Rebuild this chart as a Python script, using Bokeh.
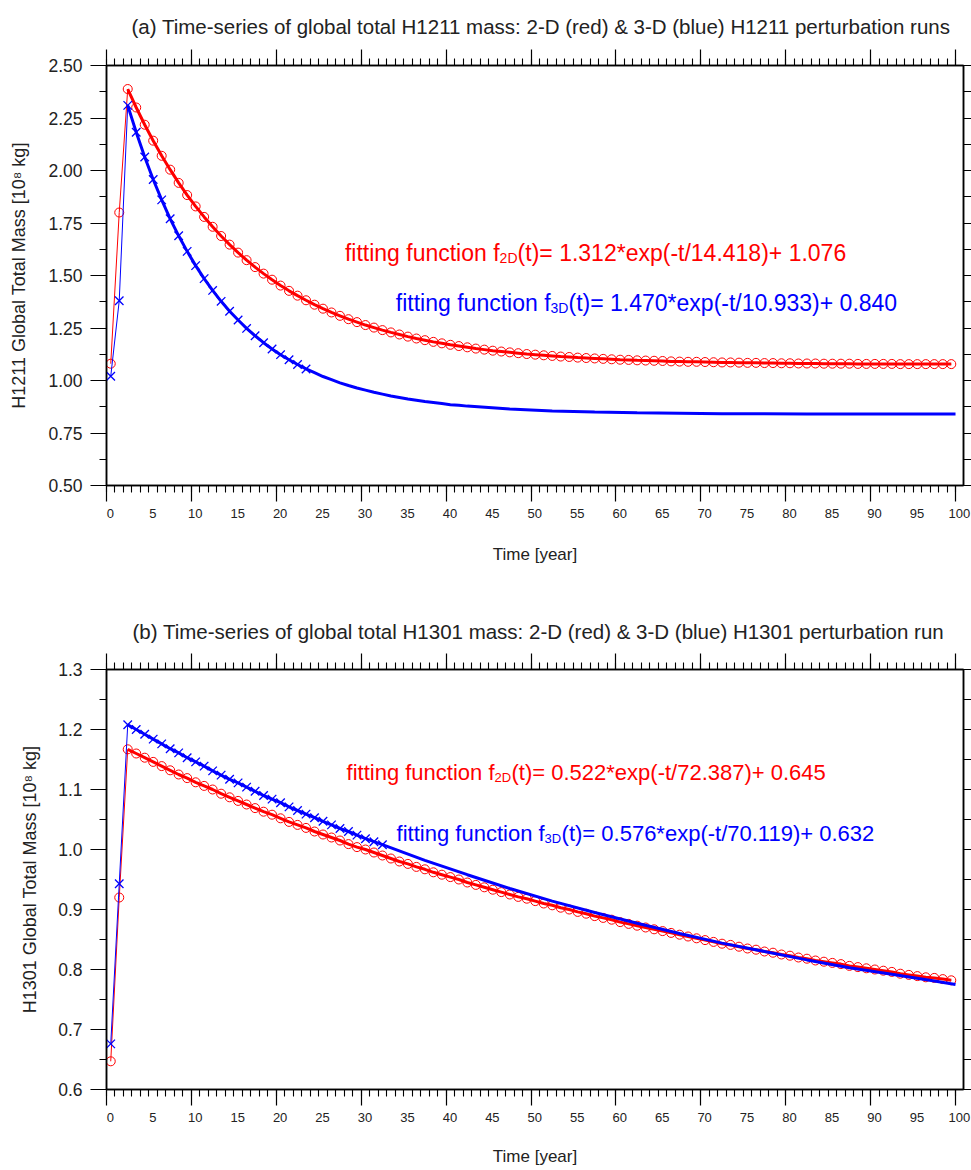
from bokeh.plotting import figure
from bokeh.layouts import column
from bokeh.models import (Range1d, LinearAxis, FixedTicker, CustomJSTickFormatter,
                          PrintfTickFormatter, Label)
from bokeh.embed import file_html
from bokeh.resources import INLINE

# ------------------------------------------------------------------ data
# panel (a) H1211 -- yearly values starting at year 0.5
h1211_2d = [1.080, 1.800,
            2.388, 2.300, 2.218, 2.142, 2.070, 2.004, 1.941, 1.883, 1.829, 1.779,
            1.732, 1.688, 1.647, 1.609, 1.573, 1.540, 1.509, 1.480, 1.452, 1.427,
            1.404, 1.382, 1.361, 1.342, 1.324, 1.308, 1.292, 1.278, 1.264, 1.252,
            1.240, 1.229, 1.219, 1.209, 1.200, 1.192, 1.184, 1.177, 1.170, 1.164,
            1.158, 1.152, 1.147, 1.142, 1.138, 1.134, 1.130, 1.126, 1.123, 1.120,
            1.117, 1.114, 1.112, 1.109, 1.107, 1.105, 1.103, 1.101, 1.099, 1.098,
            1.096, 1.095, 1.094, 1.093, 1.091, 1.090, 1.089, 1.089, 1.088, 1.087,
            1.086, 1.086, 1.085, 1.084, 1.084, 1.083, 1.083, 1.082, 1.082, 1.081,
            1.081, 1.081, 1.080, 1.080, 1.080, 1.080, 1.079, 1.079, 1.079, 1.079,
            1.079, 1.078, 1.078, 1.078, 1.078, 1.078, 1.078, 1.078]
h1211_3d = [1.020, 1.380,
            2.310, 2.182, 2.064, 1.957, 1.860, 1.770, 1.689, 1.615, 1.547, 1.485,
            1.429, 1.377, 1.330, 1.288, 1.248, 1.213, 1.180, 1.150, 1.123, 1.099,
            1.076, 1.055]
h1211_fit3d_t = [2.5, 3.5, 4.5, 5.5, 6.5, 7.5, 8.5, 9.5, 10.5, 11.5,
                 12.5, 13.5, 14.5, 15.5, 16.5, 17.5, 18.5, 19.5, 20.5, 21.5,
                 22.5, 23.5, 24.5, 25.5, 26.5, 27.5, 28.5, 29.5, 30.5, 31.5,
                 32.5, 33.5, 34.5, 35.5, 36.5, 37.5, 38.5, 39.5, 40.5, 41.5, 42.5,
                 47.5, 52.5, 57.5, 62.5, 67.5, 72.5, 77.5, 82.5, 87.5, 92.5, 97.5, 100.0]
h1211_fit3d = [2.310, 2.182, 2.064, 1.957, 1.860, 1.770, 1.689, 1.615, 1.547, 1.485,
               1.429, 1.377, 1.330, 1.288, 1.248, 1.213, 1.180, 1.150, 1.123, 1.099,
               1.076, 1.055, 1.037, 1.019, 1.004, 0.989, 0.976, 0.964, 0.954, 0.944,
               0.935, 0.926, 0.919, 0.912, 0.906, 0.900, 0.895, 0.890, 0.885, 0.882, 0.878,
               0.864, 0.855, 0.850, 0.846, 0.844, 0.842, 0.842, 0.841, 0.841, 0.840, 0.840, 0.840]

# panel (b) H1301
h1301_2d = [0.647, 0.920,
            1.167, 1.160, 1.153, 1.146, 1.139, 1.132, 1.125, 1.119, 1.112, 1.106,
            1.100, 1.093, 1.087, 1.081, 1.075, 1.069, 1.063, 1.058, 1.052, 1.046,
            1.041, 1.036, 1.030, 1.025, 1.020, 1.015, 1.009, 1.004, 1.000, 0.995,
            0.990, 0.985, 0.980, 0.976, 0.971, 0.967, 0.962, 0.958, 0.954, 0.950,
            0.945, 0.941, 0.937, 0.933, 0.929, 0.925, 0.921, 0.918, 0.914, 0.910,
            0.907, 0.903, 0.900, 0.896, 0.893, 0.889, 0.886, 0.883, 0.879, 0.876,
            0.873, 0.870, 0.867, 0.864, 0.861, 0.858, 0.855, 0.852, 0.849, 0.846,
            0.843, 0.841, 0.838, 0.835, 0.833, 0.830, 0.828, 0.825, 0.823, 0.820,
            0.818, 0.815, 0.813, 0.811, 0.809, 0.806, 0.804, 0.802, 0.800, 0.798,
            0.796, 0.793, 0.791, 0.789, 0.787, 0.786, 0.784, 0.782]
h1301_3d = [0.676, 0.943,
            1.208, 1.200, 1.192, 1.184, 1.176, 1.168, 1.161, 1.153, 1.146, 1.139,
            1.131, 1.124, 1.117, 1.111, 1.104, 1.097, 1.090, 1.084, 1.078, 1.071,
            1.065, 1.059, 1.053, 1.047, 1.041, 1.035, 1.030, 1.024, 1.018, 1.013,
            1.008]
h1301_fit3d_t = [2.5, 3.5, 4.5, 5.5, 6.5, 7.5, 8.5, 9.5, 10.5, 11.5,
                 12.5, 13.5, 14.5, 15.5, 16.5, 17.5, 18.5, 19.5, 20.5, 21.5,
                 22.5, 23.5, 24.5, 25.5, 26.5, 27.5, 28.5, 29.5, 30.5, 31.5, 32.5,
                 37.5, 42.5, 47.5, 52.5, 57.5, 62.5, 67.5, 72.5, 77.5, 82.5, 87.5,
                 92.5, 97.5, 100.0]
h1301_fit3d = [1.208, 1.200, 1.192, 1.184, 1.176, 1.168, 1.161, 1.153, 1.146, 1.139,
               1.131, 1.124, 1.117, 1.111, 1.104, 1.097, 1.090, 1.084, 1.078, 1.071,
               1.065, 1.059, 1.053, 1.047, 1.041, 1.035, 1.030, 1.024, 1.018, 1.013, 1.008,
               0.982, 0.958, 0.935, 0.914, 0.895, 0.877, 0.860, 0.844, 0.830, 0.816, 0.803,
               0.792, 0.781, 0.775]

x_major_ticks = [0, 10, 20, 30, 40, 50, 60, 70, 80, 90, 100]
x_minor_ticks = list(range(0, 101))
x_tick_labels = ["0", "5", "10", "15", "20", "25", "30", "35", "40", "45", "50",
                 "55", "60", "65", "70", "75", "80", "85", "90", "95", "100"]
x_tick_label_pos = [0, 5, 10, 15, 20, 25, 30, 35, 40, 45, 50,
                    55, 60, 65, 70, 75, 80, 85, 90, 95, 100]

a_y_major = [0.50, 0.75, 1.00, 1.25, 1.50, 1.75, 2.00, 2.25, 2.50]
a_y_minor = [0.500, 0.625, 0.750, 0.875, 1.000, 1.125, 1.250, 1.375, 1.500,
             1.625, 1.750, 1.875, 2.000, 2.125, 2.250, 2.375, 2.500]
b_y_major = [0.6, 0.7, 0.8, 0.9, 1.0, 1.1, 1.2, 1.3]
b_y_minor = [0.60, 0.65, 0.70, 0.75, 0.80, 0.85, 0.90, 0.95, 1.00,
             1.05, 1.10, 1.15, 1.20, 1.25, 1.30]

a_title = "(a) Time-series of global total H1211 mass: 2-D (red) & 3-D (blue) H1211 perturbation runs"
b_title = "(b) Time-series of global total H1301 mass: 2-D (red) & 3-D (blue) H1301 perturbation run"
a_ylabel = "H1211 Global Total Mass [10\u2078 kg]"
b_ylabel = "H1301 Global Total Mass [10\u2078 kg]"
x_label = "Time [year]"
fit_prefix = "fitting function f"
a_fit2d = "(t)= 1.312*exp(-t/14.418)+ 1.076"
a_fit3d = "(t)= 1.470*exp(-t/10.933)+ 0.840"
b_fit2d = "(t)= 0.522*exp(-t/72.387)+ 0.645"
b_fit3d = "(t)= 0.576*exp(-t/70.119)+ 0.632"

FONT = "Liberation Sans"
RED = "#ff0000"
BLUE = "#0000ff"
TXT = "#222222"
LABEL_SHIFT = 0.45   # x tick labels sit slightly right of their ticks in the original


def years(vals):
    return [0.5 + i for i in range(len(vals))]


def make_panel(height, top, yr, ymaj, ymin, yfmt, title, title_off, title_standoff,
               ylabel, ylabel_standoff, d2, d3, ft, fv, xlabel_standoff, ann):
    p = figure(width=971, height=height, output_backend="svg", toolbar_location=None,
               x_range=Range1d(0, 100.94), y_range=Range1d(*yr),
               min_border_left=106, min_border_right=8, min_border_top=top,
               min_border_bottom=height - top - 420)
    p.xgrid.visible = False
    p.ygrid.visible = False
    p.outline_line_color = "black"
    p.outline_line_width = 1.5
    p.background_fill_color = "white"
    p.border_fill_color = "white"

    p.title.text = title
    p.title.align = "left"
    p.title.offset = title_off
    p.title.standoff = title_standoff
    p.title.text_font = FONT
    p.title.text_font_size = "20.5px"
    p.title.text_font_style = "normal"
    p.title.text_color = TXT

    def style(ax, ticker, mout, nout, labels):
        ax.ticker = ticker
        ax.axis_line_color = "black"
        ax.axis_line_width = 1.5
        ax.major_tick_in = 0
        ax.minor_tick_in = 0
        ax.major_tick_out = mout
        ax.minor_tick_out = nout
        ax.major_tick_line_color = "black"
        ax.minor_tick_line_color = "black"
        ax.major_tick_line_width = 1.2
        ax.minor_tick_line_width = 1.1
        if not labels:
            ax.formatter = CustomJSTickFormatter(code="return ''")
            ax.major_label_text_font_size = "0px"
            ax.major_label_text_color = None
            ax.major_label_standoff = 0

    style(p.xaxis[0], FixedTicker(ticks=x_major_ticks, minor_ticks=x_minor_ticks), 16, 7, False)
    style(p.yaxis[0], FixedTicker(ticks=ymaj, minor_ticks=ymin), 16, 7, True)
    yax = p.yaxis[0]
    yax.formatter = PrintfTickFormatter(format=yfmt)
    yax.major_label_text_font = FONT
    yax.major_label_text_font_size = "17.5px"
    yax.major_label_text_color = TXT
    yax.major_label_standoff = 8
    yax.axis_label = ylabel
    yax.axis_label_text_font = FONT
    yax.axis_label_text_font_size = "18px"
    yax.axis_label_text_font_style = "normal"
    yax.axis_label_text_color = TXT
    yax.axis_label_standoff = ylabel_standoff

    above = LinearAxis()
    style(above, FixedTicker(ticks=x_major_ticks, minor_ticks=x_minor_ticks), 16, 7, False)
    p.add_layout(above, "above")
    right = LinearAxis()
    style(right, FixedTicker(ticks=ymaj, minor_ticks=ymin), 8, 8, False)
    p.add_layout(right, "right")

    # second bottom axis: only the year labels and the axis title
    lab = LinearAxis(ticker=FixedTicker(ticks=[v + LABEL_SHIFT for v in x_tick_label_pos],
                                        minor_ticks=[]),
                     formatter=CustomJSTickFormatter(args=dict(labels=x_tick_labels),
                                                     code="return labels[index]"))
    lab.axis_line_color = None
    lab.major_tick_line_color = None
    lab.minor_tick_line_color = None
    lab.major_tick_in = 0
    lab.major_tick_out = 0
    lab.minor_tick_in = 0
    lab.minor_tick_out = 0
    lab.major_label_standoff = 7
    lab.major_label_text_font = FONT
    lab.major_label_text_font_size = "13px"
    lab.major_label_text_color = TXT
    lab.axis_label = x_label
    lab.axis_label_text_font = FONT
    lab.axis_label_text_font_size = "17px"
    lab.axis_label_text_font_style = "normal"
    lab.axis_label_text_color = TXT
    lab.axis_label_standoff = xlabel_standoff
    p.add_layout(lab, "below")

    # data
    t2 = years(d2)
    t3 = years(d3)
    p.line(t2, d2, line_color=RED, line_width=1)
    p.scatter(t2, d2, marker="circle", size=9, line_color=RED, fill_color=None, line_width=1)
    p.line(t2[2:], d2[2:], line_color=RED, line_width=3)
    p.line(t3, d3, line_color=BLUE, line_width=1)
    p.scatter(t3, d3, marker="x", size=12, line_color=BLUE, line_width=1.3)
    p.line(ft, fv, line_color=BLUE, line_width=3)

    for (ax, ay, sub, rest, color, big, small, gap) in ann:
        p.add_layout(Label(x=ax, y=ay, text=fit_prefix, text_align="right",
                           text_baseline="alphabetic", text_font=FONT,
                           text_font_size=big, text_color=color))
        p.add_layout(Label(x=ax, y=ay, y_offset=-5, text=sub, text_align="left",
                           text_baseline="alphabetic", text_font=FONT,
                           text_font_size=small, text_color=color))
        p.add_layout(Label(x=ax, y=ay, x_offset=gap, text=rest, text_align="left",
                           text_baseline="alphabetic", text_font=FONT,
                           text_font_size=big, text_color=color))
    return p


pa = make_panel(598, 65, (0.5, 2.5), a_y_major, a_y_minor, "%.2f", a_title, 25, 24,
                a_ylabel, 16, h1211_2d, h1211_3d, h1211_fit3d_t, h1211_fit3d, 24,
                [(46.3, 1.609, "2D", a_fit2d, RED, "23px", "14px", 18),
                 (52.3, 1.371, "3D", a_fit3d, BLUE, "23px", "14px", 18)])
pb = make_panel(572, 71, (0.6, 1.3), b_y_major, b_y_minor, "%.1f", b_title, 26, 21,
                b_ylabel, 15, h1301_2d, h1301_3d, h1301_fit3d_t, h1301_fit3d, 22,
                [(45.7, 1.129, "2D", b_fit2d, RED, "22px", "13px", 17),
                 (51.6, 1.026, "3D", b_fit3d, BLUE, "22px", "13px", 17)])

layout = column(pa, pb)
open("out.html", "w").write(file_html(layout, INLINE))
